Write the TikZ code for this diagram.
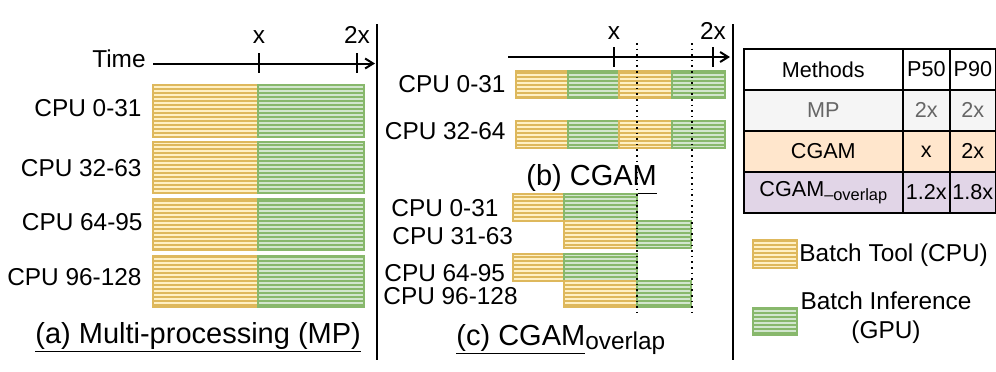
\documentclass[tikz,border=0pt]{standalone}
\usepackage{fontspec}
\setmainfont{Liberation Sans}
\usetikzlibrary{arrows.meta,patterns.meta}
\definecolor{cpuline}{RGB}{222,184,92}
\definecolor{cpufill}{RGB}{255,240,196}
\definecolor{gpuline}{RGB}{136,184,108}
\definecolor{gpufill}{RGB}{210,230,206}
\definecolor{mpgray}{RGB}{245,245,245}
\definecolor{cgampeach}{RGB}{255,230,204}
\definecolor{overlaplav}{RGB}{225,213,231}

\begin{document}
\begin{tikzpicture}[
    x=0.5pt, y=-0.5pt,
    cpubar/.style={draw=cpuline, line width=0.8pt, preaction={fill=cpuline}, pattern={Lines[angle=0,distance=2pt,line width=0.8pt]}, pattern color=cpufill},
    gpubar/.style={draw=gpuline, line width=0.8pt, preaction={fill=gpuline}, pattern={Lines[angle=0,distance=2pt,line width=0.8pt]}, pattern color=gpufill},
    lbl/.style={inner sep=0pt, font=\fontsize{12.2}{14.5}\selectfont},
    subcap/.style={inner sep=0pt, anchor=base west, font=\fontsize{14.5}{16}\selectfont},
    timeaxis/.style={line width=1pt, -{Straight Barb[length=4pt,width=5pt]}},
    tickmark/.style={line width=1pt},
    divider/.style={line width=1pt},
    guide/.style={dotted, line width=0.8pt},
    cell/.style={draw, line width=0.8pt, minimum height=20.5pt, inner sep=0pt, anchor=north west, font=\fontsize{10.8}{12}\selectfont}
]
\useasboundingbox (0,0) rectangle (996,371);

% (a) multi-processing
\node[lbl, anchor=base east] (timelbl) at (146,67) {Time};
\coordinate (ta0) at (153,63.5);
\coordinate (ta1) at (375,63.5);
\draw[timeaxis] (ta0) -- (ta1);
\draw[tickmark] (259,53) -- (259,73);
\draw[tickmark] (357,53) -- (357,73);
\node[lbl, anchor=base] (ax) at (259,43) {x};
\node[lbl, anchor=base] (a2x) at (357,43) {2x};

\draw[cpubar] (153,85) rectangle (258,137);
\draw[gpubar] (258,85) rectangle (364,137);
\draw[cpubar] (153,142) rectangle (258,193);
\draw[gpubar] (258,142) rectangle (364,193);
\draw[cpubar] (153,199) rectangle (258,250);
\draw[gpubar] (258,199) rectangle (364,250);
\draw[cpubar] (153,256) rectangle (258,307);
\draw[gpubar] (258,256) rectangle (364,307);

\node[lbl, anchor=east] (a1) at (142,108.3) {CPU 0-31};
\node[lbl, anchor=east] (a2) at (142,168) {CPU 32-63};
\node[lbl, anchor=east] (a3) at (143,221.7) {CPU 64-95};
\node[lbl, anchor=east] (a4) at (142,276.7) {CPU 96-128};
\node[subcap] (capa) at (35,343) {\underline{(a) Multi-processing (MP)}};

\draw[divider] (377,24) -- (377,360);

% (b) CGAM
\coordinate (tb0) at (508,57);
\coordinate (tb1) at (730,57);
\draw[timeaxis] (tb0) -- (tb1);
\draw[tickmark] (614,47) -- (614,67);
\draw[tickmark] (713,47) -- (713,67);
\node[lbl, anchor=base] (bx) at (614,39.3) {x};
\node[lbl, anchor=base] (b2x) at (713,39.3) {2x};

\draw[cpubar] (516,71) rectangle (568,98);
\draw[gpubar] (568,71) rectangle (619,98);
\draw[cpubar] (619,71) rectangle (672,98);
\draw[gpubar] (672,71) rectangle (725,98);
\draw[cpubar] (516,121) rectangle (568,148);
\draw[gpubar] (568,121) rectangle (619,148);
\draw[cpubar] (619,121) rectangle (672,148);
\draw[gpubar] (672,121) rectangle (725,148);

\node[lbl, anchor=east] (b1) at (506,84) {CPU 0-31};
\node[lbl, anchor=east] (b2) at (506,131) {CPU 32-64};
\node[subcap] (capb) at (526,185) {\underline{(b) CGAM}};

% (c) CGAM overlap
\draw[cpubar] (513,194) rectangle (564,221);
\draw[gpubar] (564,194) rectangle (637,221);
\draw[cpubar] (564,221) rectangle (637,248);
\draw[gpubar] (637,221) rectangle (691,248);
\draw[cpubar] (513,254) rectangle (564,281);
\draw[gpubar] (564,254) rectangle (637,281);
\draw[cpubar] (564,281) rectangle (637,307);
\draw[gpubar] (637,281) rectangle (691,307);

\draw[guide] (637,43) -- (637,312);
\draw[guide] (692,43) -- (692,312);

\node[lbl, anchor=west] (c1) at (391,208.3) {CPU 0-31};
\node[lbl, anchor=west] (c2) at (392,236) {CPU 31-63};
\node[lbl, anchor=west] (c3) at (384,273.3) {CPU 64-95};
\node[lbl, anchor=west] (c4) at (383,295.7) {CPU 96-128};
\node[subcap] (capc) at (456,345) {\underline{(c) CGAM}\raisebox{-2.3pt}{\fontsize{12.2}{12}\selectfont overlap}};

\draw[divider] (733,24) -- (733,360);

% table
\node[cell, minimum width=79.5pt] (hm) at (743,48) {Methods};
\node[cell, minimum width=23.5pt] (h50) at (902,48) {P50};
\node[cell, minimum width=23pt] (h90) at (949,48) {P90};
\node[cell, minimum width=79.5pt, fill=mpgray, text=black!60] (mpm) at (743,89) {MP};
\node[cell, minimum width=23.5pt, fill=mpgray, text=black!60] (mp50) at (902,89) {2x};
\node[cell, minimum width=23pt, fill=mpgray, text=black!60] (mp90) at (949,89) {2x};
\node[cell, minimum width=79.5pt, fill=cgampeach] (cgm) at (743,130) {CGAM};
\node[cell, minimum width=23.5pt, fill=cgampeach] (cg50) at (902,130) {x};
\node[cell, minimum width=23pt, fill=cgampeach] (cg90) at (949,130) {2x};
\node[cell, minimum width=79.5pt, fill=overlaplav] (ovm) at (743,171) {CGAM\raisebox{-2pt}{\fontsize{8.2}{8}\selectfont --overlap}};
\node[cell, minimum width=23.5pt, fill=overlaplav] (ov50) at (902,171) {1.2x};
\node[cell, minimum width=23pt, fill=overlaplav] (ov90) at (949,171) {1.8x};

% legend
\draw[cpubar] (753,240) rectangle (797,268);
\node[lbl, anchor=base west] (lgcpu) at (799,261.7) {Batch Tool (CPU)};
\draw[gpubar] (753,308) rectangle (797,335);
\node[lbl, align=center] (lggpu) at (886,318) {Batch Inference\\(GPU)};
\end{tikzpicture}
\end{document}
